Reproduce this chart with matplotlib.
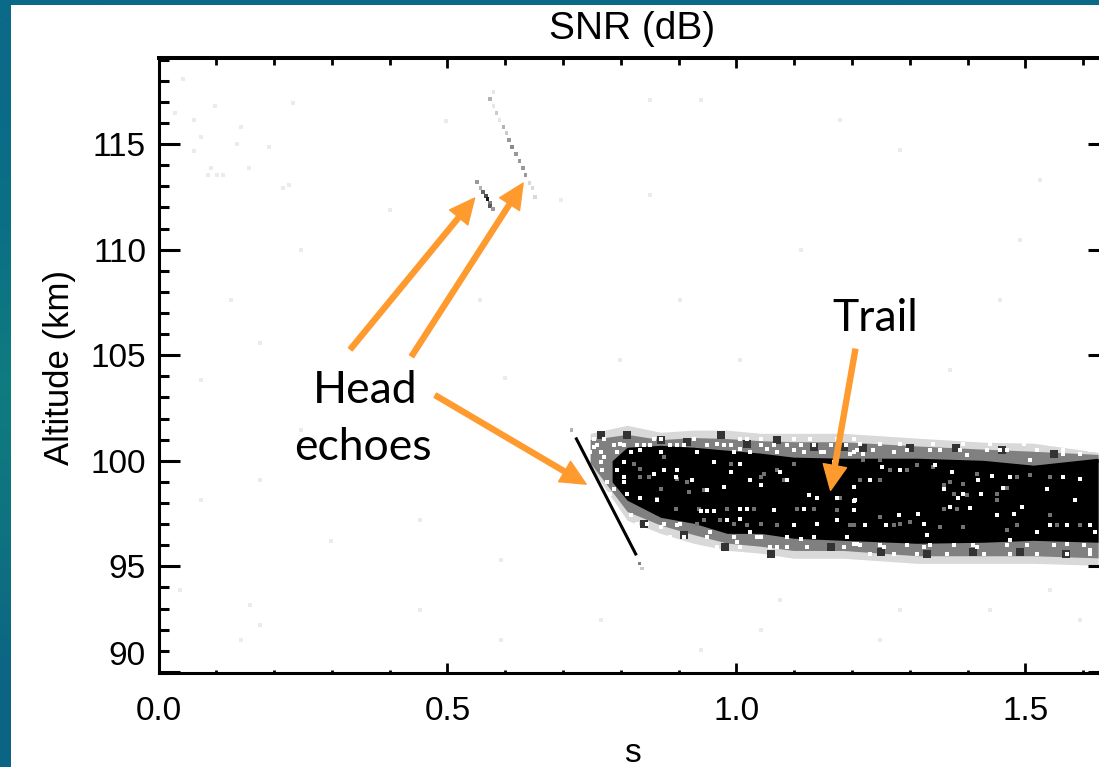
import numpy as np
import matplotlib
matplotlib.use("Agg")
import matplotlib.pyplot as plt
from matplotlib.ticker import MultipleLocator

# --- axis labels ---
x_ticks = [0.0, 0.5, 1.0, 1.5]
x_labels = ["0.0", "0.5", "1.0", "1.5"]
y_ticks = [90, 95, 100, 105, 110, 115]
y_labels = ["90", "95", "100", "105", "110", "115"]

# --- head echoes (time s, altitude km, grey 0-1) ---
echo1_t = [0.551, 0.557, 0.562, 0.567, 0.569, 0.574, 0.574, 0.579]
echo1_alt = [113.21, 112.91, 112.73, 112.54, 112.39, 112.20, 112.06, 111.92]
echo1_grey = [0.6, 0.7, 0.4, 0.3, 0.1, 0.5, 0.35, 0.6]

echo2_t = [0.580, 0.574, 0.580, 0.585, 0.590, 0.597, 0.602, 0.607, 0.612, 0.619, 0.625, 0.631, 0.635, 0.642, 0.647, 0.652]
echo2_alt = [117.46, 117.13, 116.80, 116.47, 116.14, 115.81, 115.52, 115.19, 114.86, 114.53, 114.19, 113.86, 113.53, 113.15, 112.91, 112.49]
echo2_grey = [0.9, 0.7, 0.9, 0.8, 0.9, 0.7, 0.8, 0.6, 0.55, 0.6, 0.6, 0.6, 0.6, 0.85, 0.85, 0.85]

echo3_t = [0.722, 0.827]
echo3_alt = [101.10, 95.52]
echo3_end_t = [0.715, 0.832, 0.837]
echo3_end_alt = [101.45, 95.14, 94.90]
echo3_end_grey = [0.7, 0.5, 0.8]

# --- trail envelope ---
trail_t = [0.747, 0.811, 0.869, 0.926, 0.984, 1.042, 1.099, 1.185, 1.313, 1.427, 1.514, 1.626]
outer_top = [101.30, 101.68, 101.35, 101.45, 101.45, 101.30, 101.30, 101.30, 101.07, 100.88, 100.83, 100.40]
outer_bot = [99.74, 97.18, 96.56, 96.09, 95.76, 95.62, 95.38, 95.38, 95.14, 95.14, 95.14, 95.05]
mid_top = [101.0, 101.25, 101.0, 101.1, 101.05, 100.95, 100.9, 100.9, 100.7, 100.55, 100.45, 100.3]
mid_bot = [99.9, 97.6, 96.95, 96.5, 96.1, 95.95, 95.75, 95.75, 95.5, 95.5, 95.5, 95.4]
core_t = [0.785, 0.811, 0.869, 0.926, 0.984, 1.042, 1.099, 1.185, 1.313, 1.427, 1.514, 1.626]
core_top = [100.0, 100.64, 100.73, 100.64, 100.50, 100.36, 100.17, 100.12, 100.12, 100.02, 99.79, 100.12]
core_bot = [99.0, 98.13, 97.32, 97.04, 96.56, 96.56, 96.33, 96.23, 96.09, 96.14, 96.23, 96.14]

# --- holes in the trail ---
white_t = [1.007, 0.895, 0.961, 0.863, 0.834, 1.206, 1.174, 1.125, 1.024, 0.923, 0.961, 0.949, 0.938, 1.007, 1.019,
           1.117, 0.978, 1.140, 1.076, 0.897, 0.857, 0.874, 0.990, 1.042, 1.088, 1.203, 1.169, 0.949, 1.065, 1.203,
           1.174, 0.984, 1.007, 1.024, 1.099, 1.140, 1.204, 1.282, 1.315, 1.383, 1.423, 1.405, 1.223, 1.259, 1.325,
           1.494, 1.480, 1.451, 1.442, 1.419, 1.373, 1.344, 1.252, 1.284, 1.359, 1.543, 1.572, 1.612, 1.586, 1.537,
           1.462, 1.393, 1.370, 1.566, 1.595, 1.474, 1.232, 1.330, 1.621,
           0.753, 0.799, 0.840, 0.771, 0.805, 0.788, 0.897, 0.967, 1.007, 1.053, 1.099, 1.151, 1.197, 0.834,
           1.220, 1.272, 1.335, 1.399, 1.468, 1.509, 1.566, 1.595,
           0.817, 0.869, 0.897, 0.955, 1.001, 1.071, 1.111, 1.203, 1.036,
           1.209, 1.255, 1.324, 1.416, 1.474, 1.520, 1.572, 1.612]
white_alt = [99.86, 99.23, 99.94, 98.12, 98.25, 98.12, 98.25, 98.36, 99.07, 99.07, 97.62, 97.62, 97.62, 97.73, 97.73,
             97.73, 98.76, 98.25, 99.47, 99.58, 99.39, 99.55, 99.47, 98.83, 99.07, 98.76, 99.94, 98.60, 97.65, 97.65,
             97.18, 97.18, 97.26, 96.62, 96.94, 97.02, 98.09, 97.44, 97.49, 98.25, 98.41, 97.76, 96.94, 96.94, 97.02,
             97.81, 97.49, 97.41, 99.26, 99.07, 99.47, 99.78, 99.70, 99.55, 98.68, 96.94, 96.94, 96.94, 98.12, 98.68,
             98.72, 98.44, 97.81, 99.23, 99.15, 99.23, 99.07, 96.46, 96.62,
             100.65, 100.81, 100.73, 100.18, 99.23, 98.68, 100.73, 100.81, 100.57, 100.57, 100.49, 100.41, 100.34, 100.49,
             100.34, 100.41, 100.49, 100.26, 100.49, 100.02, 100.34, 100.34,
             97.41, 96.86, 96.94, 96.62, 96.15, 95.91, 96.31, 96.07, 96.39,
             96.07, 95.91, 95.91, 95.91, 96.23, 96.62, 96.07, 95.75]

# --- grey flecks inside the black core ---
fleck_t = [0.874, 0.834, 0.848, 0.869, 0.897, 0.915, 0.895, 0.935, 0.984, 1.030, 1.105, 1.134, 0.996, 0.972, 1.042, 1.071,
           1.180, 1.082, 1.047, 1.042, 0.990, 1.071, 1.099, 0.944, 0.918, 0.863, 0.834, 0.822, 1.174, 1.197, 1.019, 0.944, 0.932,
           1.214, 1.249, 1.266, 1.295, 1.359, 1.370, 1.393, 1.376, 1.399, 1.451, 1.468, 1.359, 1.382, 1.451, 1.543, 1.555, 1.595,
           1.485, 1.272, 1.284, 1.301, 1.353, 1.393, 1.468, 1.543, 1.485, 1.509, 1.203, 1.249, 1.312, 1.341, 1.416, 1.220, 1.249]
fleck_alt = [100.18, 99.62, 99.23, 98.68, 99.15, 98.99, 97.73, 97.73, 97.73, 97.73, 97.73, 97.73, 97.02, 97.18, 97.02, 96.94,
             98.25, 99.07, 99.39, 99.23, 99.86, 99.55, 99.86, 98.60, 98.52, 98.20, 99.23, 99.86, 97.65, 96.94, 96.94, 97.18, 97.02,
             99.07, 99.07, 99.55, 99.55, 98.83, 98.99, 98.91, 98.44, 98.36, 98.44, 98.72, 97.73, 97.73, 98.12, 97.41, 96.94, 96.94,
             96.94, 96.94, 97.02, 97.10, 96.86, 96.86, 96.70, 99.23, 99.23, 99.31, 96.94, 97.33, 99.78, 99.70, 99.39, 100.02, 100.02]

# --- fringe holes, one list per altitude row ---
fringe_alts = [101.05, 100.81, 100.73, 100.49, 100.41, 99.94, 99.55, 98.99, 98.44, 97.02, 96.39, 95.99, 95.91, 95.6]
fringe_times = [
    [0.753, 0.771, 0.857, 0.869, 0.926, 1.007, 1.019, 1.042, 1.099, 1.128, 1.174, 1.203],
    [1.214, 1.249, 1.284, 1.341, 1.393, 1.439, 1.497, 1.543, 1.601],
    [0.759, 0.788, 0.805, 0.828, 0.851, 0.886, 0.909, 0.949, 0.978, 0.990, 1.042, 1.065, 1.088, 1.111, 1.134, 1.163, 1.189],
    [1.209, 1.237, 1.295, 1.353, 1.387, 1.434, 1.457, 1.520, 1.566, 1.612],
    [0.747, 0.765, 0.794, 0.817, 0.869, 0.932, 0.996, 1.024, 1.071, 1.117, 1.146, 1.203],
    [0.765, 0.805],
    [0.768, 0.794],
    [0.776, 0.805],
    [0.782, 0.811],
    [0.828, 0.846, 0.874, 0.903],
    [0.886, 0.909, 0.949, 0.996, 1.042, 1.088, 1.134, 1.192],
    [1.214, 1.249, 1.295, 1.335, 1.376, 1.410, 1.468, 1.503, 1.549, 1.601],
    [0.926, 0.967, 1.007, 1.059, 1.088, 1.122, 1.186],
    [1.232, 1.272, 1.312, 1.364, 1.428, 1.474, 1.520, 1.572, 1.612],
]

# --- darker patches on the fringes of the trail ---
dark_t = [0.765, 0.811, 0.869, 0.915, 0.973, 1.019, 1.071, 1.134, 1.186, 1.22, 1.30, 1.38, 1.46, 1.55,
          0.84, 0.91, 0.98, 1.06, 1.163, 1.25, 1.33, 1.41, 1.49, 1.57]
dark_alt = [101.2, 101.2, 100.97, 100.89, 101.2, 100.81, 100.97, 100.65, 100.65, 100.6, 100.6, 100.6, 100.5, 100.3,
            97.0, 96.5, 95.9, 95.6, 95.9, 95.7, 95.6, 95.7, 95.7, 95.6]

# --- faint background noise ---
noise_t = [0.042, 0.097, 0.232, 0.029, 0.062, 0.142, 0.074, 0.135, 0.192, 0.062, 0.090, 0.157, 0.085, 0.102, 0.112,
           0.225, 0.215, 0.851, 0.600, 0.176, 0.497, 0.298, 0.159, 0.765, 1.042, 1.284, 1.543, 1.526, 1.111, 0.938,
           1.284, 1.457, 1.007, 0.799, 0.557, 0.246, 0.073, 0.142, 0.453, 0.592, 0.938, 1.249, 1.439, 1.595, 0.851,
           1.18, 1.491, 1.370, 0.903, 0.696, 0.401, 0.246, 0.125, 0.073, 0.176, 0.453, 0.592, 0.038, 0.176, 1.076]
noise_alt = [118.08, 116.80, 116.94, 116.47, 116.14, 115.81, 115.33, 115.0, 114.86, 114.67, 113.86, 113.86, 113.53, 113.53, 113.53,
             113.06, 112.91, 112.58, 103.91, 105.57, 116.1, 96.2, 93.15, 92.44, 91.97, 92.91, 93.86, 113.29, 109.98, 117.09,
             114.72, 107.61, 104.76, 104.76, 107.6, 101.45, 98.13, 91.49, 92.91, 91.49, 91.02, 91.49, 92.91, 92.44, 117.09,
             116.14, 110.45, 104.29, 107.6, 112.35, 111.87, 109.98, 107.61, 103.82, 99.08, 97.18, 95.28, 93.86, 92.2, 93.39]

# --- callouts (tail t, tail alt, tip t, tip alt) ---
arrows = [
    (0.332, 105.28, 0.547, 112.44),
    (0.438, 104.95, 0.631, 113.15),
    (0.479, 103.10, 0.740, 98.89),
    (1.206, 105.28, 1.163, 98.60),
]
# ---------------

ORANGE = "#FF9A2E"
PIXEL = 6.5  # one cell of the radar image, as scatter size
TICK_FONT = ["Liberation Sans Narrow", "Liberation Sans"]
NOTE_FONT = ["Lato", "DejaVu Sans"]

fig = plt.figure(figsize=(10.99, 7.67), dpi=100, facecolor="white")

# teal slide background behind the white panel
bg = fig.add_axes([0, 0, 1, 1])
bg_colours = np.array([[[10, 106, 136]], [[11, 112, 132]], [[15, 124, 128]], [[14, 114, 128]], [[12, 100, 132]]]) / 255
bg.imshow(bg_colours, aspect="auto", interpolation="bilinear", extent=[0, 1099, 767, 0])
bg.add_patch(plt.Rectangle((11, 5), 1088, 762, color="white", lw=0))
bg.set_xlim(0, 1099)
bg.set_ylim(767, 0)
bg.axis("off")

ax = fig.add_axes([158.5 / 1099, (767 - 672.5) / 767, 950 / 1099, 615 / 767])
ax.patch.set_alpha(0)
ax.set_xlim(0, 1.644)
ax.set_ylim(89.97, 119.1)

# trail
ax.fill_between(trail_t, outer_bot, outer_top, color="0.85", lw=0, zorder=1)
ax.fill_between(trail_t, mid_bot, mid_top, color="0.5", lw=0, zorder=2)
ax.fill_between(core_t, core_bot, core_top, color="0.0", lw=0, zorder=3)
ax.scatter(dark_t, dark_alt, s=PIXEL * 4, c="0.2", marker="s", lw=0, zorder=3)
ax.scatter(fleck_t, fleck_alt, s=PIXEL, c="0.45", marker="s", lw=0, zorder=4)
ax.scatter(white_t, white_alt, s=PIXEL, c="white", marker="s", lw=0, zorder=4)
for alt, times in zip(fringe_alts, fringe_times):
    ax.scatter(times, [alt] * len(times), s=PIXEL * 1.6, c="white", marker="s", lw=0, zorder=4)

# noise and head echoes
ax.scatter(noise_t, noise_alt, s=PIXEL, c="0.92", marker="s", lw=0, zorder=1)
ax.scatter(echo1_t, echo1_alt, s=PIXEL, c=echo1_grey, cmap="gray", vmin=0, vmax=1, marker="s", lw=0, zorder=5)
ax.scatter(echo2_t, echo2_alt, s=PIXEL, c=echo2_grey, cmap="gray", vmin=0, vmax=1, marker="s", lw=0, zorder=5)
ax.plot(echo3_t, echo3_alt, color="black", lw=2.2, solid_capstyle="butt", zorder=5)
ax.scatter(echo3_end_t, echo3_end_alt, s=PIXEL, c=echo3_end_grey, cmap="gray", vmin=0, vmax=1, marker="s", lw=0, zorder=5)

# axes furniture, IDL style
for side in ax.spines.values():
    side.set_linewidth(2.2)
ax.spines["top"].set_linewidth(2.9)
ax.set_xticks(x_ticks)
ax.set_xticklabels(x_labels)
ax.set_yticks(y_ticks)
ax.set_yticklabels(y_labels)
ax.xaxis.set_minor_locator(MultipleLocator(0.1))
ax.yaxis.set_minor_locator(MultipleLocator(1))
ax.tick_params(axis="both", which="both", direction="in", top=True, right=True, color="black")
ax.tick_params(axis="x", which="major", length=7.5, width=2.0, pad=17)
ax.tick_params(axis="x", which="minor", length=5, width=2.0)
ax.tick_params(axis="y", which="major", length=15, width=2.2, pad=9)
ax.tick_params(axis="y", which="minor", length=7.5, width=2.2)
for tick in ax.xaxis.get_minor_ticks():
    tick.tick1line.set_markersize(2.5)
for lab in ax.get_xticklabels() + ax.get_yticklabels():
    lab.set_fontfamily(TICK_FONT)
    lab.set_fontsize(24)
ax.get_yticklabels()[0].set_verticalalignment("bottom")

# title and axis names sit relative to the visible part of the slide
fig.text(632 / 1099, 1 - 29 / 767, "SNR (dB)", family=TICK_FONT, fontsize=28, ha="center", va="center")
fig.text(60 / 1099, 1 - 368 / 767, "Altitude (km)", family=TICK_FONT, fontsize=25, rotation=90, ha="center", va="center")
fig.text(632 / 1099, 1 - 753 / 767, "s", family=TICK_FONT, fontsize=24, ha="center", va="center")

# callouts
for tail_t, tail_alt, tip_t, tip_alt in arrows:
    ax.annotate("", xy=(tip_t, tip_alt), xytext=(tail_t, tail_alt), zorder=6,
                arrowprops=dict(width=3.6, headwidth=17, headlength=18, color=ORANGE, shrink=0))
ax.text(1.24, 106.75, "Trail", family=NOTE_FONT, fontsize=32, ha="center", va="center", zorder=7)
ax.text(0.358, 103.34, "Head", family=NOTE_FONT, fontsize=32, ha="center", va="center", zorder=7)
ax.text(0.353, 100.64, "echoes", family=NOTE_FONT, fontsize=32, ha="center", va="center", zorder=7)

fig.savefig("out.png", dpi=100)
